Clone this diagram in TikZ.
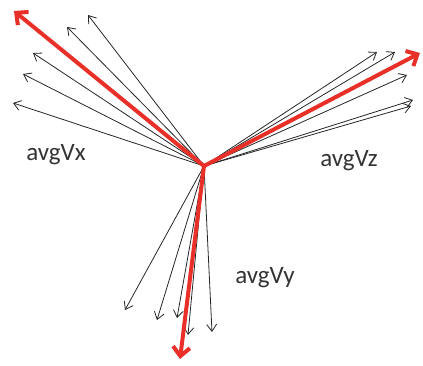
\documentclass[tikz,border=0pt]{standalone}
\usepackage{fontspec}
\setmainfont{Carlito}
\usetikzlibrary{arrows.meta}
\definecolor{vred}{RGB}{232,48,40}
\begin{document}
\begin{tikzpicture}[x=1pt,y=-1pt,
  thinvec/.style={draw=black!85,line width=0.8pt,-{Straight Barb[length=7pt,width=10pt,line width=0.8pt]}},
  redvec/.style={draw=vred,line width=4pt,-{Straight Barb[length=9pt,width=17pt,line width=4pt]}},
  lbl/.style={font=\fontsize{25}{30}\selectfont,text=black!80}]
\useasboundingbox (0,0) rectangle (423,365);
\coordinate (o) at (204,166);
% left group
\coordinate (l1) at (88,15);
\coordinate (l2) at (67,27);
\coordinate (l3) at (33,53);
\coordinate (l4) at (23,74);
\coordinate (l5) at (13,103);
\coordinate (lr) at (14,11);
% right group
\coordinate (r1) at (377,52);
\coordinate (r2) at (395,52);
\coordinate (r3) at (407,75);
\coordinate (r4) at (413,100);
\coordinate (r5) at (411,106);
\coordinate (rr) at (420,53);
% bottom group
\coordinate (b1) at (125,310);
\coordinate (b2) at (157,320);
\coordinate (b3) at (177,318);
\coordinate (b4) at (188,335);
\coordinate (b5) at (212,332);
\coordinate (br) at (180,359);
\foreach \p in {l1,l2,l3,l4,l5,r1,r2,r3,r4,r5,b1,b2,b3,b4,b5}
  \draw[thinvec] (o) -- (\p);
\draw[redvec] (o) -- (lr);
\draw[redvec] (o) -- (rr);
\draw[redvec] (o) -- (br);
\node[lbl] (vx) at (56,155) {avgVx};
\node[lbl] (vz) at (349,161) {avgVz};
\node[lbl] (vy) at (265,278) {avgVy};
\end{tikzpicture}
\end{document}
